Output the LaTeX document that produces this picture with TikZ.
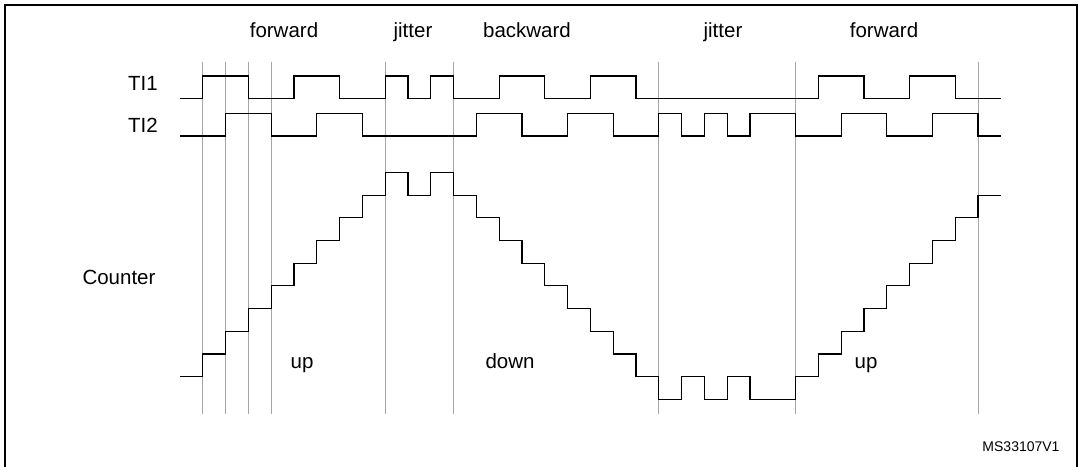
\documentclass[tikz,border=0pt]{standalone}
\usepackage{fontspec}
\setmainfont{Liberation Sans}
\begin{document}
\begin{tikzpicture}[x=1pt,y=-1pt,
  lbl/.style={inner sep=0pt,anchor=base,font=\fontsize{20.5}{24}\selectfont},
  wave/.style={line width=1.1pt,black},
  grid/.style={line width=0.9pt,gray!70}]
\useasboundingbox (0,0) rectangle (1083,466);
\draw[line width=1.5pt] (5,5) rectangle (1077,480);
% labels
\node[lbl] (ti1) at (143,90.5) {TI1};
\node[lbl] (ti2) at (143,132.5) {TI2};
\node[lbl] (cnt) at (119,284) {Counter};
\node[lbl] (f1) at (284,37.5) {forward};
\node[lbl] (j1) at (413,37.5) {jitter};
\node[lbl] (b1) at (527,37.5) {backward};
\node[lbl] (j2) at (723,37.5) {jitter};
\node[lbl] (f2) at (884,37.5) {forward};
\node[lbl] (u1) at (302,368.5) {up};
\node[lbl] (d1) at (510,368.5) {down};
\node[lbl] (u2) at (866,368.5) {up};
\node[inner sep=0pt,anchor=base,font=\fontsize{14}{16}\selectfont] (ms) at (1021,451) {MS33107V1};
\begin{scope}[x=22.8pt,xshift=180pt]
  \foreach \t in {1,2,3,4,9,12,21,27,35}
    \draw[grid] (\t,61.7) -- (\t,414);
  % TI1
  \draw[wave] (0,98.7) foreach[count=\k] \l in {0,1,1,0,0,1,1,0,0,1,0,1,0,0,1,1,0,0,1,1,0,0,0,0,0,0,0,0,1,1,0,0,1,1,0,0}
    { |- (\k,{98.7-22.7*\l}) };
  % TI2
  \draw[wave] (0,136) foreach[count=\k] \l in {0,0,1,1,0,0,1,1,0,0,0,0,0,1,1,0,0,1,1,0,0,1,0,1,0,1,1,0,0,1,1,0,0,1,1,0}
    { |- (\k,{136-22.3*\l}) };
  % Counter
  \draw[wave] (0,376.7) foreach[count=\k] \l in {0,1,2,3,4,5,6,7,8,9,8,9,8,7,6,5,4,3,2,1,0,-1,0,-1,0,-1,-1,0,1,2,3,4,5,6,7,8}
    { |- (\k,{376.7-22.7*\l}) };
\end{scope}
\end{tikzpicture}
\end{document}
